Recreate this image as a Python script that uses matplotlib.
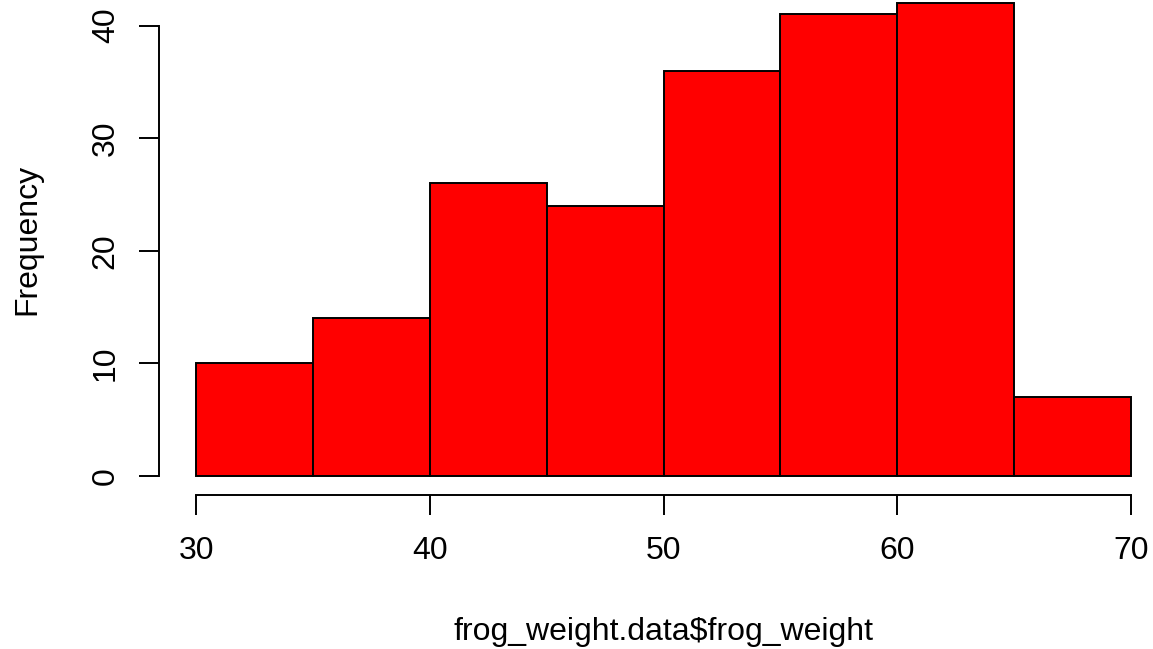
import matplotlib
matplotlib.use("Agg")
import matplotlib.pyplot as plt

breaks = [30, 35, 40, 45, 50, 55, 60, 65, 70]
counts = [10, 14, 26, 24, 36, 41, 42, 7]
xticks = [30, 40, 50, 60, 70]
yticks = [0, 10, 20, 30, 40]
xlabel = "frog_weight.data$frog_weight"
ylabel = "Frequency"

plt.rcParams['font.family'] = ['Liberation Sans', 'DejaVu Sans']

fig = plt.figure(figsize=(11.53, 6.49), dpi=100)
ax = fig.add_axes([0.1378, 0.2374, 0.8755, 0.7869])

widths = [breaks[i + 1] - breaks[i] for i in range(len(counts))]
ax.bar(breaks[:-1], counts, width=widths, align='edge',
       color='#FF0000', edgecolor='black', linewidth=1.4)

ax.set_xlim(28.4, 71.6)
ax.set_ylim(-1.68, 43.68)

for s in ['top', 'right']:
    ax.spines[s].set_visible(False)
ax.spines['left'].set_bounds(0, 40)
ax.spines['bottom'].set_bounds(30, 70)
ax.spines['left'].set_linewidth(1.4)
ax.spines['bottom'].set_linewidth(1.4)

ax.set_xticks(xticks)
ax.set_yticks(yticks)
ax.set_xticklabels([str(v) for v in xticks])
ax.set_yticklabels([str(v) for v in yticks], rotation=90, va='center')
ax.tick_params(axis='x', length=14.4, width=1.4, labelsize=23, pad=15)
ax.tick_params(axis='y', length=14.4, width=1.4, labelsize=23, pad=13)

ax.set_xlabel(xlabel, fontsize=23, labelpad=37)
ax.set_ylabel(ylabel, fontsize=23, labelpad=35)

fig.savefig("out.png", dpi=100)
